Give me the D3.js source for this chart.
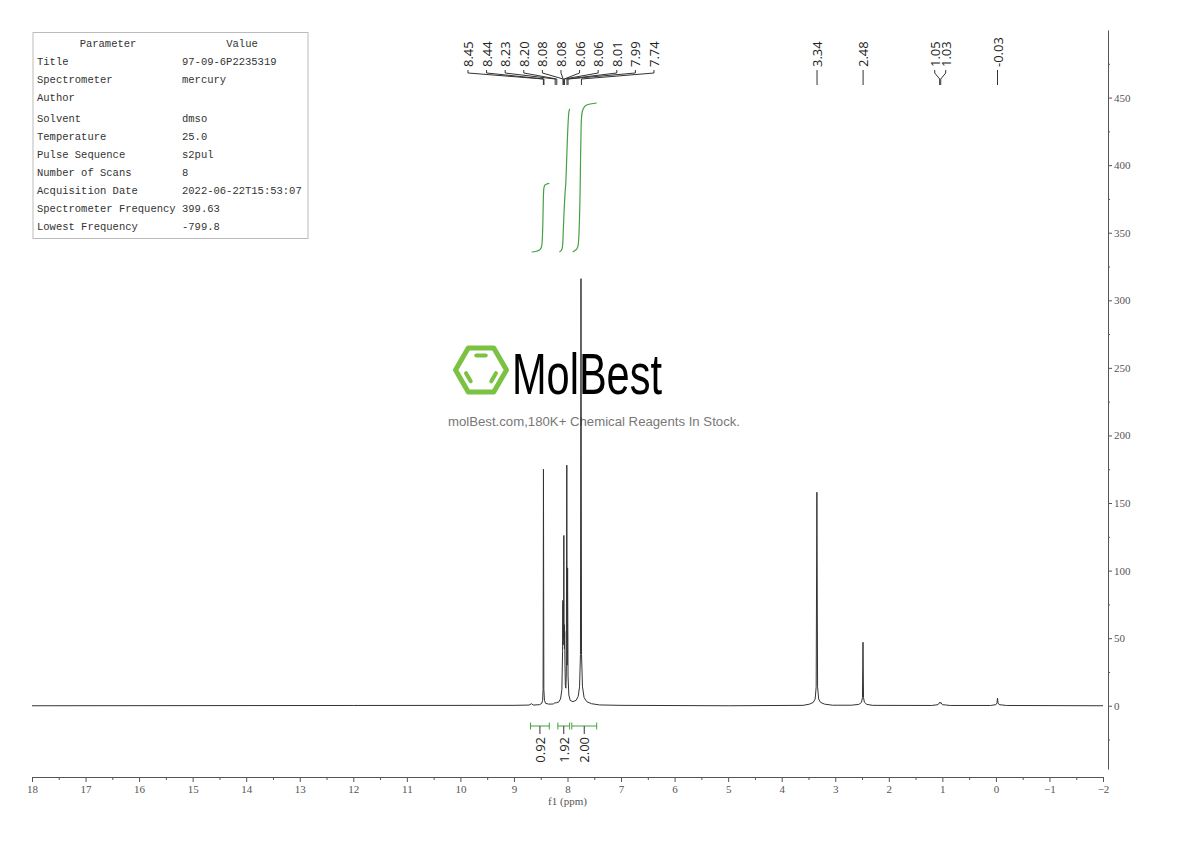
<!DOCTYPE html>
<html>
<head>
<meta charset="utf-8">
<script src="https://cdn.jsdelivr.net/npm/d3@7"></script>
<style>
  body { margin: 0; background: #fff; }
  svg { display: block; }
</style>
</head>
<body>
<div id="chart"></div>
<script>
// Spectrum trace: [ppm, intensity]
var spectrum = [
  [18.0, 0], [12.0, 0.2], [9.0, 0.3], [8.72, 0.5], [8.67, 1.5], [8.64, 0.5],
  [8.52, 0.8], [8.48, 1.8], [8.465, 4], [8.456, 12], [8.449, 175], [8.442, 12], [8.43, 4], [8.41, 1.8],
  [8.35, 1.2], [8.26, 1.3], [8.23, 2.5], [8.215, 1.8], [8.20, 2.5], [8.17, 2.5],
  [8.13, 5], [8.105, 12], [8.092, 40], [8.086, 78], [8.081, 45], [8.078, 75], [8.074, 50],
  [8.068, 126], [8.064, 50], [8.060, 60], [8.057, 42], [8.053, 55], [8.047, 30], [8.04, 15],
  [8.03, 13], [8.022, 25], [8.013, 178], [8.006, 30], [7.998, 102], [7.99, 22], [7.975, 8],
  [7.95, 4], [7.90, 3], [7.84, 4], [7.80, 7], [7.775, 14], [7.758, 38], [7.748, 316],
  [7.738, 38], [7.72, 14], [7.69, 6], [7.64, 3], [7.55, 1.5], [7.40, 0.6], [7.0, 0.3],
  [5.0, 0], [3.60, 0.3], [3.48, 1.2], [3.41, 2.5], [3.375, 5], [3.356, 14], [3.343, 158],
  [3.330, 14], [3.31, 5], [3.275, 2.5], [3.20, 1.2], [3.05, 0.4], [2.70, 0.4],
  [2.56, 1], [2.51, 2.5], [2.492, 6], [2.482, 47], [2.472, 6], [2.455, 2.5], [2.41, 1],
  [2.30, 0.3], [1.20, 0.2], [1.08, 0.8], [1.05, 2.5], [1.04, 1.8], [1.03, 2.5], [1.00, 0.8],
  [0.85, 0.2], [0.10, 0.2], [0.0, 0.8], [-0.02, 2], [-0.03, 5.7], [-0.04, 2], [-0.06, 0.8],
  [-0.2, 0.2], [-2.0, 0]
];

// peak pick labels, grouped as in the picture
var peakGroups = [
  [8.45, 8.44, 8.23, 8.20, 8.08, 8.08, 8.06, 8.06, 8.01, 7.99, 7.74],
  [3.34],
  [2.48],
  [1.05, 1.03],
  [-0.03]
];

// integrals
var integralRanges = [[8.69, 8.34], [8.18, 7.96], [7.92, 7.455]];
var integralValues = [0.92, 1.92, 2.00];
var integralCurves = [
  [[8.67, 0], [8.58, 0.01], [8.52, 0.03], [8.49, 0.06], [8.475, 0.12], [8.46, 0.4],
   [8.45, 0.75], [8.44, 0.86], [8.42, 0.9], [8.38, 0.915], [8.34, 0.92]],
  [[8.153, 0], [8.12, 0.02], [8.10, 0.05], [8.09, 0.1], [8.075, 0.35], [8.06, 0.6],
   [8.045, 0.8], [8.03, 0.95], [8.015, 1.25], [8.0, 1.55], [7.985, 1.78], [7.975, 1.87],
   [7.965, 1.91], [7.955, 1.92]],
  [[7.903, 0], [7.86, 0.02], [7.82, 0.05], [7.80, 0.1], [7.78, 0.35], [7.765, 0.8],
   [7.755, 1.3], [7.745, 1.7], [7.73, 1.86], [7.70, 1.93], [7.65, 1.97], [7.55, 1.99],
   [7.455, 2.0]]
];

// axes
var xTicks = d3.range(18, -3, -1);
var xMinorTicks = d3.range(17.5, -2, -1);
var yTicks = d3.range(0, 451, 50);
var yMinorTicks = d3.range(-25, 500, 50);

// parameter table
var paramNames = ["Title", "Spectrometer", "Author", "Solvent", "Temperature", "Pulse Sequence",
  "Number of Scans", "Acquisition Date", "Spectrometer Frequency", "Lowest Frequency"];
var paramValues = ["97-09-6P2235319", "mercury", "", "dmso", "25.0", "s2pul",
  "8", "2022-06-22T15:53:07", "399.63", "-799.8"];

var svg = d3.select("#chart")
  .append("svg")
  .attr("width", 1190)
  .attr("height", 841);

// scales
var x = d3.scaleLinear().domain([18, -2]).range([32, 1103]);
var y = d3.scaleLinear().domain([-46.8, 500]).range([769, 30]);
var yInt = d3.scaleLinear().domain([0, 2]).range([252, 103]);

var green = "#46a046";

// ---- watermark (drawn first, spectrum goes on top) ----
var logo = svg.append("g").attr("transform", "translate(481,370)");
var hexR = 25.5;
var hexPts = d3.range(6).map(function(i) {
  var a = Math.PI / 3 * i;
  return [hexR * Math.cos(a), hexR * Math.sin(a)];
});
logo.append("path")
  .attr("d", "M" + hexPts.join("L") + "Z")
  .attr("fill", "none")
  .attr("stroke", "#7cc242")
  .attr("stroke-width", 5)
  .attr("stroke-linejoin", "round");
// inner bars on alternating edges
[[4, 5], [0, 1], [2, 3]].forEach(function(e) {
  var r = 0.66, s = 0.22;
  var p1 = hexPts[e[0]], p2 = hexPts[e[1]];
  var ax = p1[0] * r, ay = p1[1] * r, bx = p2[0] * r, by = p2[1] * r;
  logo.append("line")
    .attr("x1", ax + (bx - ax) * s).attr("y1", ay + (by - ay) * s)
    .attr("x2", bx - (bx - ax) * s).attr("y2", by - (by - ay) * s)
    .attr("stroke", "#7cc242")
    .attr("stroke-width", 4)
    .attr("stroke-linecap", "round");
});
svg.append("text")
  .attr("x", 512)
  .attr("y", 394)
  .attr("font-family", "Liberation Sans")
  .attr("font-size", "57px")
  .attr("textLength", 150)
  .attr("lengthAdjust", "spacingAndGlyphs")
  .attr("fill", "#000")
  .text("MolBest");
svg.append("text")
  .attr("x", 448)
  .attr("y", 426)
  .attr("font-family", "Liberation Sans")
  .attr("font-size", "12.5px")
  .attr("textLength", 292)
  .attr("lengthAdjust", "spacingAndGlyphs")
  .attr("fill", "#777")
  .text("molBest.com,180K+ Chemical Reagents In Stock.");

// ---- parameter table ----
var table = svg.append("g").attr("font-family", "Liberation Mono").attr("font-size", "10.5px").attr("fill", "#333");
table.append("rect")
  .attr("x", 33).attr("y", 32.5).attr("width", 275).attr("height", 206)
  .attr("fill", "none").attr("stroke", "#bbb");
table.append("text").attr("x", 108).attr("y", 44).attr("text-anchor", "middle")
  .attr("dominant-baseline", "central").text("Parameter");
table.append("text").attr("x", 242).attr("y", 44).attr("text-anchor", "middle")
  .attr("dominant-baseline", "central").text("Value");
paramNames.forEach(function(name, i) {
  var ty = 62 + i * 18 + (i >= 3 ? 3 : 0);
  table.append("text").attr("x", 37).attr("y", ty).attr("dominant-baseline", "central").text(name);
  table.append("text").attr("x", 182).attr("y", ty).attr("dominant-baseline", "central").text(paramValues[i]);
});

// ---- axes ----
svg.append("g")
  .attr("transform", "translate(0,777)")
  .call(d3.axisBottom(x).tickValues(xTicks).tickSize(5).tickSizeOuter(0).tickPadding(3)
    .tickFormat(d3.format("d")));
svg.append("g")
  .attr("transform", "translate(0,777)")
  .call(d3.axisBottom(x).tickValues(xMinorTicks).tickSize(3).tickFormat(""))
  .select(".domain").remove();

svg.append("g")
  .attr("transform", "translate(1108,0)")
  .call(d3.axisRight(y).tickValues(yTicks).tickSize(4).tickSizeOuter(0).tickPadding(2));
svg.append("g")
  .attr("transform", "translate(1108,0)")
  .call(d3.axisRight(y).tickValues(yMinorTicks).tickSize(2).tickFormat(""))
  .select(".domain").remove();

svg.selectAll(".tick line, .domain").attr("stroke", "#555");
svg.selectAll(".tick text")
  .attr("font-family", "Liberation Serif")
  .attr("font-size", "11px")
  .attr("fill", "#555");

svg.append("text")
  .attr("x", x(8))
  .attr("y", 805)
  .attr("text-anchor", "middle")
  .attr("font-family", "Liberation Serif")
  .attr("font-size", "11px")
  .attr("fill", "#555")
  .text("f1 (ppm)");

// ---- spectrum ----
var line = d3.line()
  .x(function(d) { return x(d[0]); })
  .y(function(d) { return y(d[1]); });
svg.append("path")
  .datum(spectrum)
  .attr("d", line)
  .attr("fill", "none")
  .attr("stroke", "#333")
  .attr("stroke-width", 1);

// ---- integral curves ----
var intLine = d3.line()
  .curve(d3.curveMonotoneX)
  .x(function(d) { return x(d[0]); })
  .y(function(d) { return yInt(d[1]); });
integralCurves.forEach(function(c) {
  svg.append("path")
    .datum(c)
    .attr("d", intLine)
    .attr("fill", "none")
    .attr("stroke", green)
    .attr("stroke-width", 1.2);
});

// ---- integral brackets and values ----
integralRanges.forEach(function(r, i) {
  var x1 = x(r[0]), x2 = x(r[1]), cx = (x1 + x2) / 2;
  var g = svg.append("g");
  g.append("line").attr("x1", x1).attr("x2", x2).attr("y1", 726).attr("y2", 726)
    .attr("stroke", green);
  [x1, x2].forEach(function(ex) {
    g.append("line").attr("x1", ex).attr("x2", ex).attr("y1", 722.5).attr("y2", 729.5)
      .attr("stroke", green);
  });
  g.append("line").attr("x1", cx).attr("x2", cx).attr("y1", 726).attr("y2", 734)
    .attr("stroke", "#333");
  g.append("text")
    .attr("transform", "translate(" + cx + ",737) rotate(-90)")
    .attr("text-anchor", "end")
    .attr("dominant-baseline", "central")
    .attr("font-family", "Open Sans")
    .attr("font-size", "13px")
    .attr("fill", "#222")
    .text(integralValues[i].toFixed(2));
});

// ---- peak labels ----
peakGroups.forEach(function(group) {
  var px = group.map(function(p) { return x(p); });
  var mid = d3.mean(px);
  var step = group.length > 2 ? 18.6 : 11;
  group.forEach(function(p, i) {
    var lx = mid + (i - (group.length - 1) / 2) * step;
    if (group.length === 1) lx = px[i];
    svg.append("path")
      .attr("d", "M" + lx + ",70L" + lx + ",73L" + px[i] + ",79L" + px[i] + ",85")
      .attr("fill", "none")
      .attr("stroke", "#333")
      .attr("stroke-width", 1);
    svg.append("text")
      .attr("transform", "translate(" + lx + ",67) rotate(-90)")
      .attr("text-anchor", "start")
      .attr("dominant-baseline", "central")
      .attr("font-family", "Open Sans")
      .attr("font-size", "13px")
      .attr("fill", "#222")
      .text(p.toFixed(2));
  });
});
</script>
</body>
</html>
